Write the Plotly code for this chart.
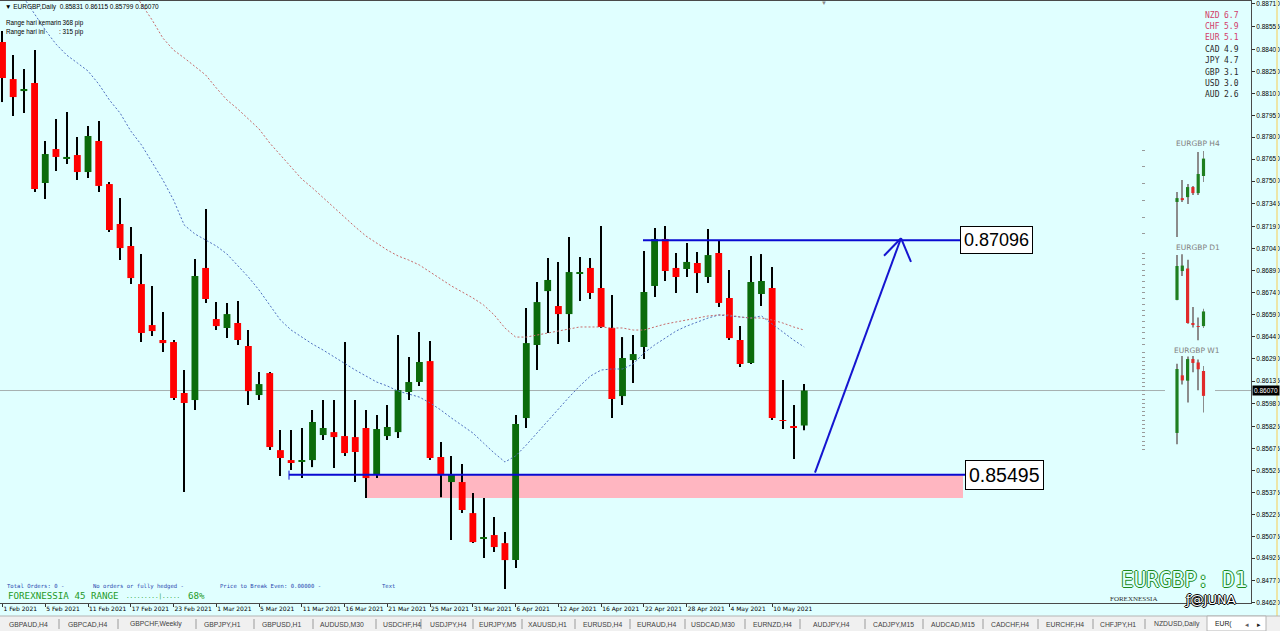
import plotly.graph_objects as go

# ---------------- data ----------------
tick_labels = ["1 Feb 2021", "5 Feb 2021", "11 Feb 2021", "17 Feb 2021", "23 Feb 2021",
               "1 Mar 2021", "5 Mar 2021", "11 Mar 2021", "16 Mar 2021", "21 Mar 2021",
               "25 Mar 2021", "31 Mar 2021", "6 Apr 2021", "12 Apr 2021", "16 Apr 2021",
               "22 Apr 2021", "28 Apr 2021", "4 May 2021", "10 May 2021"]

open_ = [0.88450, 0.88197, 0.88115, 0.88170, 0.87487, 0.87719, 0.87651, 0.87678, 0.87562, 0.87774,
         0.87480, 0.87207, 0.87057, 0.86797, 0.86517, 0.86415, 0.86401, 0.86053, 0.86005, 0.86907,
         0.86558, 0.86497, 0.86531, 0.86374, 0.86039, 0.86189, 0.85663, 0.85595, 0.85582, 0.85595,
         0.85766, 0.85786, 0.85759, 0.85752, 0.85814, 0.85500, 0.85759, 0.85786, 0.86060, 0.86128,
         0.86271, 0.85616, 0.85445, 0.85445, 0.85233, 0.85062, 0.85083, 0.85028, 0.84912, 0.85882,
         0.86381, 0.86749, 0.86647, 0.86592, 0.86866, 0.86907, 0.86770, 0.86497, 0.86032, 0.86278,
         0.86367, 0.86784, 0.87105, 0.86907, 0.86900, 0.86941, 0.86845, 0.87009, 0.86702, 0.86415,
         0.86258, 0.86729, 0.86770, 0.85868, 0.85821, 0.85831]
high = [0.88525, 0.88361, 0.88266, 0.88395, 0.87774, 0.87924, 0.87972, 0.87801, 0.87876, 0.87911,
        0.87494, 0.87385, 0.87187, 0.87002, 0.86784, 0.86606, 0.86415, 0.86210, 0.86968, 0.87310,
        0.86674, 0.86668, 0.86681, 0.86483, 0.86196, 0.86196, 0.85800, 0.85800, 0.85814, 0.85937,
        0.86005, 0.86005, 0.86401, 0.86005, 0.85937, 0.85903, 0.85971, 0.86449, 0.86299, 0.86469,
        0.86408, 0.85718, 0.85623, 0.85568, 0.85370, 0.85336, 0.85206, 0.85103, 0.85903, 0.86633,
        0.86811, 0.86975, 0.86948, 0.87118, 0.86982, 0.86975, 0.87193, 0.86722, 0.86435, 0.86449,
        0.87023, 0.87180, 0.87193, 0.87009, 0.87077, 0.87016, 0.87173, 0.87091, 0.86893, 0.86510,
        0.86989, 0.87002, 0.86913, 0.86142, 0.85971, 0.86115]
low = [0.88040, 0.87945, 0.87965, 0.87426, 0.87378, 0.87569, 0.87617, 0.87508, 0.87521, 0.87426,
       0.87152, 0.86961, 0.86797, 0.86401, 0.86442, 0.86333, 0.86005, 0.85377, 0.85937, 0.86668,
       0.86483, 0.86428, 0.86381, 0.85971, 0.86005, 0.85663, 0.85486, 0.85527, 0.85472, 0.85547,
       0.85732, 0.85541, 0.85623, 0.85445, 0.85336, 0.85472, 0.85732, 0.85745, 0.86005, 0.86101,
       0.85595, 0.85342, 0.85049, 0.85233, 0.85028, 0.84926, 0.84967, 0.84714, 0.84858, 0.85814,
       0.86210, 0.86463, 0.86387, 0.86401, 0.86681, 0.86695, 0.86497, 0.85882, 0.85971, 0.86121,
       0.86285, 0.86708, 0.86818, 0.86736, 0.86845, 0.86736, 0.86804, 0.86640, 0.86415, 0.86230,
       0.86251, 0.86647, 0.85868, 0.85807, 0.85602, 0.85799]
close = [0.88204, 0.88074, 0.88129, 0.87446, 0.87685, 0.87665, 0.87665, 0.87562, 0.87808, 0.87467,
         0.87166, 0.87043, 0.86838, 0.86463, 0.86476, 0.86394, 0.86019, 0.85985, 0.86852, 0.86695,
         0.86510, 0.86592, 0.86415, 0.86066, 0.86114, 0.85684, 0.85609, 0.85575, 0.85589, 0.85855,
         0.85814, 0.85752, 0.85643, 0.85650, 0.85472, 0.85807, 0.85821, 0.86073, 0.86128, 0.86265,
         0.85609, 0.85500, 0.85500, 0.85254, 0.85035, 0.85069, 0.85001, 0.84912, 0.85841, 0.86394,
         0.86674, 0.86825, 0.86592, 0.86879, 0.86879, 0.86736, 0.86504, 0.86012, 0.86292, 0.86319,
         0.86743, 0.87105, 0.86886, 0.86845, 0.86948, 0.86872, 0.86995, 0.86668, 0.86428, 0.86251,
         0.86811, 0.86818, 0.85882, 0.85862, 0.85818, 0.86070]

# fast MA (blue dotted), starts at bar 2
ma_fast = [0.88751, 0.88641, 0.88532, 0.88436, 0.88361, 0.88307, 0.88252, 0.88163, 0.88054, 0.87965,
           0.87842, 0.87747, 0.87624, 0.87508, 0.87371, 0.87200, 0.87139, 0.87098, 0.87057, 0.87002,
           0.86927, 0.86845, 0.86756, 0.86654, 0.86551, 0.86483, 0.86435, 0.86387, 0.86346, 0.86299,
           0.86251, 0.86210, 0.86169, 0.86128, 0.86101, 0.86066, 0.86046, 0.86025, 0.85985, 0.85937,
           0.85882, 0.85834, 0.85780, 0.85711, 0.85643, 0.85582, 0.85623, 0.85698, 0.85780, 0.85868,
           0.85950, 0.86025, 0.86101, 0.86169, 0.86210, 0.86217, 0.86217, 0.86251, 0.86326, 0.86381,
           0.86428, 0.86476, 0.86510, 0.86538, 0.86565, 0.86586, 0.86579, 0.86572, 0.86565, 0.86579,
           0.86524, 0.86469, 0.86415, 0.86367]
ma_fast_start = 2
# slow MA (red dotted), starts at bar 12
ma_slow = [0.88819, 0.88710, 0.88600, 0.88477, 0.88395, 0.88341, 0.88286, 0.88225, 0.88136, 0.88054,
           0.87993, 0.87924, 0.87856, 0.87760, 0.87678, 0.87590, 0.87514, 0.87453, 0.87385, 0.87323,
           0.87255, 0.87187, 0.87125, 0.87077, 0.87029, 0.86989, 0.86961, 0.86927, 0.86879, 0.86831,
           0.86784, 0.86743, 0.86702, 0.86654, 0.86586, 0.86497, 0.86435, 0.86435, 0.86449, 0.86463,
           0.86476, 0.86490, 0.86504, 0.86504, 0.86504, 0.86497, 0.86497, 0.86483, 0.86483, 0.86504,
           0.86524, 0.86538, 0.86551, 0.86565, 0.86579, 0.86586, 0.86586, 0.86572, 0.86565, 0.86565,
           0.86551, 0.86531, 0.86504, 0.86483]
ma_slow_start = 12

resistance = 0.87096
support = 0.85495
zone_low = 0.85336
last_price = 0.86070

y_tick_vals = [0.88710, 0.88555, 0.88400, 0.88250, 0.88100, 0.87950, 0.87800, 0.87650, 0.87500, 0.87345,
               0.87190, 0.87040, 0.86890, 0.86740, 0.86590, 0.86440, 0.86290, 0.86135, 0.85980, 0.85825,
               0.85675, 0.85525, 0.85375, 0.85225, 0.85075, 0.84925, 0.84770, 0.84620]

# mini panels
h4_open = [0.85811, 0.85834, 0.85840, 0.85900, 0.85864, 0.85966]
h4_high = [0.85870, 0.85942, 0.85918, 0.85906, 0.86109, 0.86115]
h4_low = [0.85602, 0.85811, 0.85799, 0.85852, 0.85852, 0.85930]
h4_close = [0.85834, 0.85822, 0.85900, 0.85864, 0.85978, 0.86070]

w1_open = [0.85028, 0.86647, 0.86497, 0.87105, 0.87009, 0.86770]
w1_high = [0.86975, 0.87193, 0.87180, 0.87193, 0.87091, 0.86913]
w1_low = [0.84714, 0.86387, 0.85882, 0.86736, 0.86230, 0.85602]
w1_close = [0.86825, 0.86504, 0.87105, 0.86995, 0.86818, 0.86070]

strength_names = ["NZD", "CHF", "EUR", "CAD", "JPY", "GBP", "USD", "AUD"]
strength_vals = ["6.7", "5.9", "5.1", "4.9", "4.7", "3.1", "3.0", "2.6"]

tabs = ["GBPAUD,H4", "GBPCAD,H4", "GBPCHF,Weekly", "GBPJPY,H1", "GBPUSD,H1", "AUDUSD,M30",
        "USDCHF,H4", "USDJPY,H4", "EURJPY,M5", "XAUUSD,H1", "EURUSD,H4", "EURAUD,H4",
        "USDCAD,M30", "EURNZD,H4", "AUDJPY,H4", "CADJPY,M15", "AUDCAD,M15", "CADCHF,H4",
        "EURCHF,H4", "CHFJPY,H1", "NZDUSD,Daily"]

# ---------------- layout helpers (pixel geometry) ----------------
PR, PT, PB = 1251, 1, 603
X0, DX = 2.5, 10.69


def px(x):
    return x / PR


def py(y):
    return (PB - y) / (PB - PT)


def xi(p):
    return (p - X0) / DX


UP, DN = "#0b6b0b", "#ff0000"
fig = go.Figure()


def add_candles(xs, o, h, l, c, up, dn, wick_col, body_w, wick_w, xa="x", ya="y"):
    cols = [up if cc >= oo else dn for oo, cc in zip(o, c)]
    fig.add_trace(go.Bar(x=xs, base=l, y=[hh - ll for hh, ll in zip(h, l)], width=wick_w,
                         marker=dict(color=wick_col, line=dict(width=0)),
                         xaxis=xa, yaxis=ya, hoverinfo="skip", showlegend=False))
    fig.add_trace(go.Bar(x=xs, base=[min(a, b) for a, b in zip(o, c)],
                         y=[abs(b - a) for a, b in zip(o, c)], width=body_w,
                         marker=dict(color=cols, line=dict(width=0)),
                         xaxis=xa, yaxis=ya, hoverinfo="skip", showlegend=False))


n = len(close)
idx = list(range(n))
add_candles(idx, open_, high, low, close, UP, DN, "#000000", 0.64, 0.1)

fig.add_trace(go.Scatter(x=list(range(ma_fast_start, ma_fast_start + len(ma_fast))), y=ma_fast,
                         mode="lines", line=dict(color="#4f6fbf", width=1, dash="2px,2px"),
                         hoverinfo="skip", showlegend=False))
fig.add_trace(go.Scatter(x=list(range(ma_slow_start, ma_slow_start + len(ma_slow))), y=ma_slow,
                         mode="lines", line=dict(color="#c86a6a", width=1, dash="2px,2px"),
                         hoverinfo="skip", showlegend=False))

# mini panels
mini_x = list(range(6))
add_candles(mini_x, h4_open, h4_high, h4_low, h4_close, "#1f7f1f", "#e02a2a", "#8c8c8c", 0.6, 0.19, "x2", "y2")
add_candles(mini_x, open_[-6:], high[-6:], low[-6:], close[-6:], "#1f7f1f", "#e02a2a", "#8c8c8c", 0.6, 0.19, "x3", "y3")
add_candles(mini_x, w1_open, w1_high, w1_low, w1_close, "#1f7f1f", "#e02a2a", "#8c8c8c", 0.6, 0.19, "x4", "y4")

axis_font = dict(family="Liberation Sans, Arial", size=6.5, color="#000000")

mini_xdom = [px(1165), px(1215)]
mini_xrange = [-12 / 5.3, 38 / 5.3]
fig.update_layout(
    width=1280, height=631,
    margin=dict(l=0, r=1280 - PR, t=PT, b=631 - PB, pad=0, autoexpand=False),
    paper_bgcolor="#e0ffff", plot_bgcolor="#e0ffff",
    barmode="overlay", showlegend=False,
    xaxis=dict(range=[xi(0), xi(PR)], tickvals=list(range(0, 4 * len(tick_labels), 4)),
               ticktext=tick_labels, ticks="outside", ticklen=3, tickcolor="#333333",
               tickangle=0, ticklabelposition="outside right", showgrid=False, zeroline=False,
               showline=True, linecolor="#4a4a4a", linewidth=1, mirror=True,
               tickfont=dict(family="DejaVu Sans", size=6, color="#000000")),
    yaxis=dict(range=[0.84619, 0.88730], side="right", tickvals=y_tick_vals,
               ticktext=[f"{v:.5f}" for v in y_tick_vals], ticks="outside", ticklen=3,
               tickcolor="#333333", showgrid=False, zeroline=False, showline=True,
               linecolor="#4a4a4a", linewidth=1, mirror=True, tickfont=axis_font),
    xaxis2=dict(domain=mini_xdom, range=mini_xrange, anchor="y2", visible=False),
    yaxis2=dict(domain=[py(245), py(140)], range=[0.85554, 0.86181], anchor="free",
                position=px(1145), showticklabels=False, ticks="outside", ticklen=3,
                tickcolor="#9a9a9a", tick0=0.86121, dtick=0.001, showgrid=False,
                zeroline=False, showline=False),
    xaxis3=dict(domain=mini_xdom, range=mini_xrange, anchor="y3", visible=False),
    yaxis3=dict(domain=[py(345), py(250)], range=[0.85523, 0.87072], anchor="free",
                position=px(1145), showticklabels=False, ticks="outside", ticklen=3,
                tickcolor="#9a9a9a", tick0=0.87023, dtick=0.00093, showgrid=False,
                zeroline=False, showline=False),
    xaxis4=dict(domain=mini_xdom, range=mini_xrange, anchor="y4", visible=False),
    yaxis4=dict(domain=[py(450), py(352)], range=[0.84549, 0.87303], anchor="free",
                position=px(1145), showticklabels=False, ticks="outside", ticklen=3,
                tickcolor="#9a9a9a", tick0=0.87162, dtick=0.00118, showgrid=False,
                zeroline=False, showline=False),
)

shapes = []
# support zone
shapes.append(dict(type="rect", xref="x", yref="y", x0=xi(365), x1=xi(963), y0=zone_low, y1=support,
                   fillcolor="#ffb6c1", line=dict(width=0), layer="below"))
# current price line
shapes.append(dict(type="line", xref="paper", yref="y", x0=0, x1=1, y0=last_price, y1=last_price,
                   line=dict(color="#a6b0b0", width=1), layer="below"))
BLUE = "#0a0ad2"
shapes.append(dict(type="line", xref="x", yref="y", x0=xi(643), x1=xi(960), y0=resistance, y1=resistance,
                   line=dict(color=BLUE, width=2)))
shapes.append(dict(type="line", xref="x", yref="y", x0=xi(289), x1=xi(965), y0=support, y1=support,
                   line=dict(color=BLUE, width=2)))
shapes.append(dict(type="line", xref="x", yref="y", x0=xi(289), x1=xi(289), y0=0.85461, y1=0.85523,
                   line=dict(color=BLUE, width=1)))
# arrow
tip = (xi(901), 0.87110)
shapes.append(dict(type="line", xref="x", yref="y", x0=xi(815), y0=0.85509, x1=tip[0], y1=tip[1],
                   line=dict(color="#1515d0", width=2)))
shapes.append(dict(type="line", xref="x", yref="y", x0=tip[0], y0=tip[1], x1=xi(911), y1=0.86948,
                   line=dict(color="#1515d0", width=2)))
shapes.append(dict(type="line", xref="x", yref="y", x0=tip[0], y0=tip[1], x1=xi(884), y1=0.86990,
                   line=dict(color="#1515d0", width=2)))
# right edge yellow line
shapes.append(dict(type="line", xref="paper", yref="paper", x0=px(1277), x1=px(1277), y0=py(616), y1=py(0),
                   line=dict(color="#ece6a8", width=2)))
# tab bar
shapes.append(dict(type="rect", xref="paper", yref="paper", x0=px(0), x1=px(1280), y0=py(631), y1=py(616),
                   fillcolor="#f0f0f0", line=dict(width=0)))
shapes.append(dict(type="line", xref="paper", yref="paper", x0=px(0), x1=px(1280), y0=py(616), y1=py(616),
                   line=dict(color="#b4b4b4", width=1)))
shapes.append(dict(type="rect", xref="paper", yref="paper", x0=px(1207), x1=px(1266), y0=py(631), y1=py(616),
                   fillcolor="#ffffff", line=dict(color="#b4b4b4", width=1)))
for sx in [59, 118, 196, 254, 313, 376, 421, 473, 522, 575, 630, 685, 745, 800, 865, 923, 983, 1038,
           1093, 1145]:
    shapes.append(dict(type="line", xref="paper", yref="paper", x0=px(sx), x1=px(sx), y0=py(629), y1=py(619),
                       line=dict(color="#9a9a9a", width=1)))
fig.update_layout(shapes=shapes)

ann = []


def text(x, y, s, size=7, color="#000000", family="Liberation Sans, Arial", xanchor="left", **kw):
    ann.append(dict(xref="paper", yref="paper", x=px(x), y=py(y), text=s, showarrow=False,
                    xanchor=xanchor, yanchor="middle", font=dict(family=family, size=size, color=color), **kw))


text(3, 7, "▼ EURGBP,Daily  0.85831 0.86115 0.85799 0.86070", size=6.5)
text(4, 23, "Range hari kemarin", size=6.3)
text(57, 23, ": 368 pip", size=6.3)
text(4, 32, "Range hari ini", size=6.3)
text(57, 32, ": 315 pip", size=6.3)

for k, (nm, v) in enumerate(zip(strength_names, strength_vals)):
    col = "#d23c6a" if k < 3 else "#2a2a2a"
    yy = 15 + k * 11.4
    text(1203, yy, nm, size=8, color=col, family="DejaVu Sans Mono")
    text(1222, yy, v, size=8, color=col, family="DejaVu Sans Mono")

text(1198, 144, "EURGBP H4", size=7.5, color="#808080", family="DejaVu Sans", xanchor="center")
text(1198, 247, "EURGBP D1", size=7.5, color="#808080", family="DejaVu Sans", xanchor="center")
text(1197, 351, "EURGBP W1", size=7.5, color="#808080", family="DejaVu Sans", xanchor="center")

# price tags
ann.append(dict(xref="x", yref="y", x=xi(960), y=resistance, text="0.87096", showarrow=False,
                xanchor="left", yanchor="middle", bgcolor="#ffffff", bordercolor="#000000",
                borderwidth=1, borderpad=3, font=dict(family="Liberation Sans, Arial", size=18, color="#000000")))
ann.append(dict(xref="x", yref="y", x=xi(965), y=support, text="0.85495", showarrow=False,
                xanchor="left", yanchor="middle", bgcolor="#ffffff", bordercolor="#000000",
                borderwidth=1, borderpad=3, font=dict(family="Liberation Sans, Arial", size=19.5, color="#000000")))
ann.append(dict(xref="paper", yref="y", x=px(1252), y=last_price, text=f"{last_price:.5f}", showarrow=False,
                xanchor="left", yanchor="middle", bgcolor="#000000", borderpad=1,
                font=dict(family="Liberation Sans, Arial", size=6.5, color="#ffffff")))

# bottom-left info
text(5, 586, "Total Orders: 0 -", size=5.6, color="#2a48b0", family="DejaVu Sans Mono")
text(91, 586, "No orders or fully hedged -", size=5.6, color="#2a48b0", family="DejaVu Sans Mono")
text(218, 586, "Price to Break Even: 0.00000 -", size=5.6, color="#2a48b0", family="DejaVu Sans Mono")
text(380, 586, "Text", size=5.6, color="#2a48b0", family="DejaVu Sans Mono")
text(6, 595, "FOREXNESSIA 45 RANGE", size=9.2, color="#1f9a1f", family="DejaVu Sans Mono")
text(124, 596, ".........|.....", size=6, color="#1f9a1f", family="DejaVu Sans Mono")
text(186, 595, "68%", size=9.2, color="#1f9a1f", family="DejaVu Sans Mono")

# bottom-right branding
ann.append(dict(xref="paper", yref="paper", x=px(1184), y=py(580), text="EURGBP: D1", showarrow=False,
                xanchor="center", yanchor="middle",
                font=dict(family="DejaVu Sans Mono", size=21, color="#e0ffff",
                          shadow="1px 0 0 #1a8a1a, -1px 0 0 #1a8a1a, 0 1px 0 #1a8a1a, 0 -1px 0 #1a8a1a")))
text(1108, 599, "FOREXNESSIA", size=7, color="#303030", family="Liberation Serif")
ann.append(dict(xref="paper", yref="paper", x=px(1210), y=py(599), text="ƒ@JUNA", showarrow=False,
                xanchor="center", yanchor="middle",
                font=dict(family="DejaVu Sans", size=13, color="#ffffff",
                          shadow="1px 0 0 #000, -1px 0 0 #000, 0 1px 0 #000, 0 -1px 0 #000")))
text(824, 3, "▼", size=6, color="#8a8a8a", xanchor="center")

# tabs
tab_centers = [28, 88, 156, 222, 282, 342, 402, 448, 497, 547, 602, 656, 713, 772, 831, 893, 953,
               1010, 1065, 1118, 1177]
for t, cx in zip(tabs, tab_centers):
    text(cx, 624, t, size=6.8, color="#404040", xanchor="center")
text(1213, 624, "EUR(", size=6.8, color="#202020")
text(1247, 624, "◂", size=6.8, color="#606060", xanchor="center")
text(1259, 624, "▸", size=6.8, color="#202020", xanchor="center")

fig.update_layout(annotations=ann)
fig.write_html("out.html", config={"displayModeBar": False},
               post_script="document.body.style.margin='0';document.body.style.overflow='hidden';")
